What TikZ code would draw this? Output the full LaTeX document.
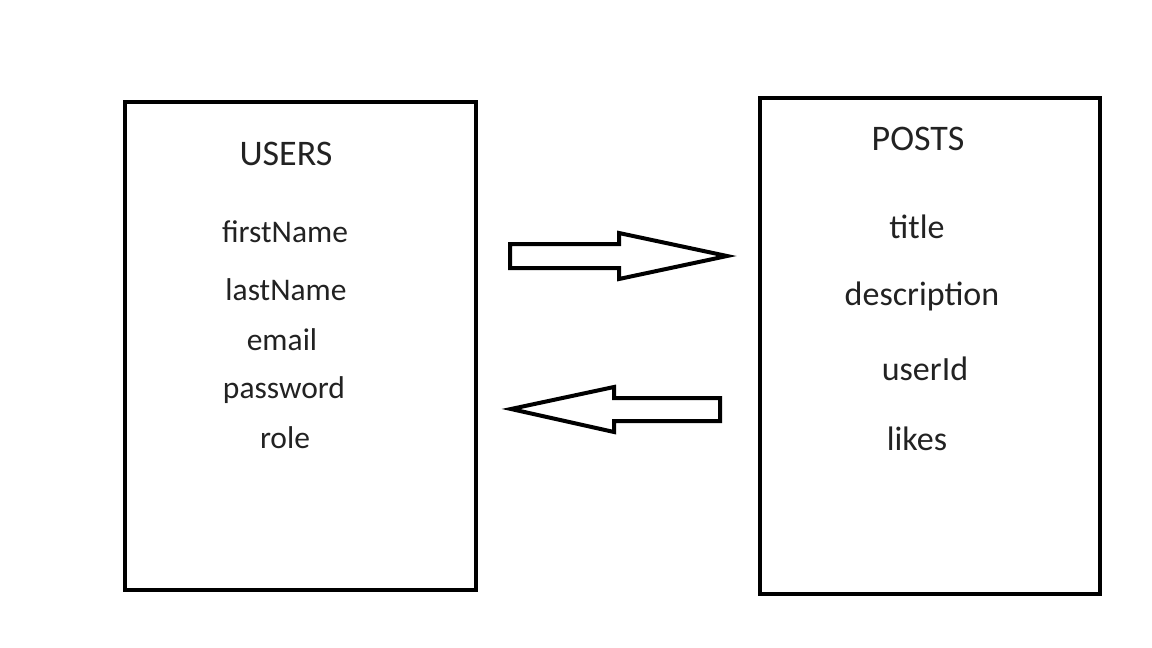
\documentclass[tikz,border=0pt]{standalone}
\usepackage{fontspec}
\setmainfont{Carlito}
\usepackage{tikz}
\usetikzlibrary{positioning}
\definecolor{ink}{HTML}{222222}

\begin{document}
\begin{tikzpicture}[x=1pt,y=-1pt,line width=4pt,line join=miter]
\tikzstyle{tbl}=[draw,rectangle,inner sep=0pt]
\tikzstyle{head}=[anchor=base,text=ink,font=\fontsize{36}{40}\selectfont]
\tikzstyle{fld}=[anchor=base,text=ink,font=\fontsize{31.5}{36}\selectfont]
\tikzstyle{fldR}=[fld,font=\fontsize{34}{38}\selectfont]
\useasboundingbox (0,0) rectangle (1152,648);
\node[tbl, minimum width=351pt, minimum height=488pt]	(users)	at (300.5,346)	{};
\node[tbl, minimum width=340pt, minimum height=496pt]	(posts)	at (930,346)	{};
\node[head]	(usersT)	at (286,165)	{USERS};
\node[fld]	(first)		at (285,242)	{firstName};
\node[fld]	(last)		at (286,300)	{lastName};
\node[fld]	(email)		at (282,350)	{email};
\node[fld]	(pass)		at (284,398)	{password};
\node[fld]	(role)		at (285,448)	{role};
\node[head]	(postsT)	at (918,150)	{POSTS};
\node[fldR]	(title)		at (917,238)	{title};
\node[fldR]	(desc)		at (922,305)	{description};
\node[fldR]	(uid)		at (925,380)	{userId};
\node[fldR]	(likes)		at (917,450)	{likes};
% block arrows
\draw (510,244) -- (619,244) -- (619,233) -- (727,256) -- (619,279) -- (619,268) -- (510,268) -- cycle;
\draw (720,398) -- (614,398) -- (614,387) -- (511,409) -- (614,432) -- (614,421) -- (720,421) -- cycle;
\end{tikzpicture}
\end{document}
